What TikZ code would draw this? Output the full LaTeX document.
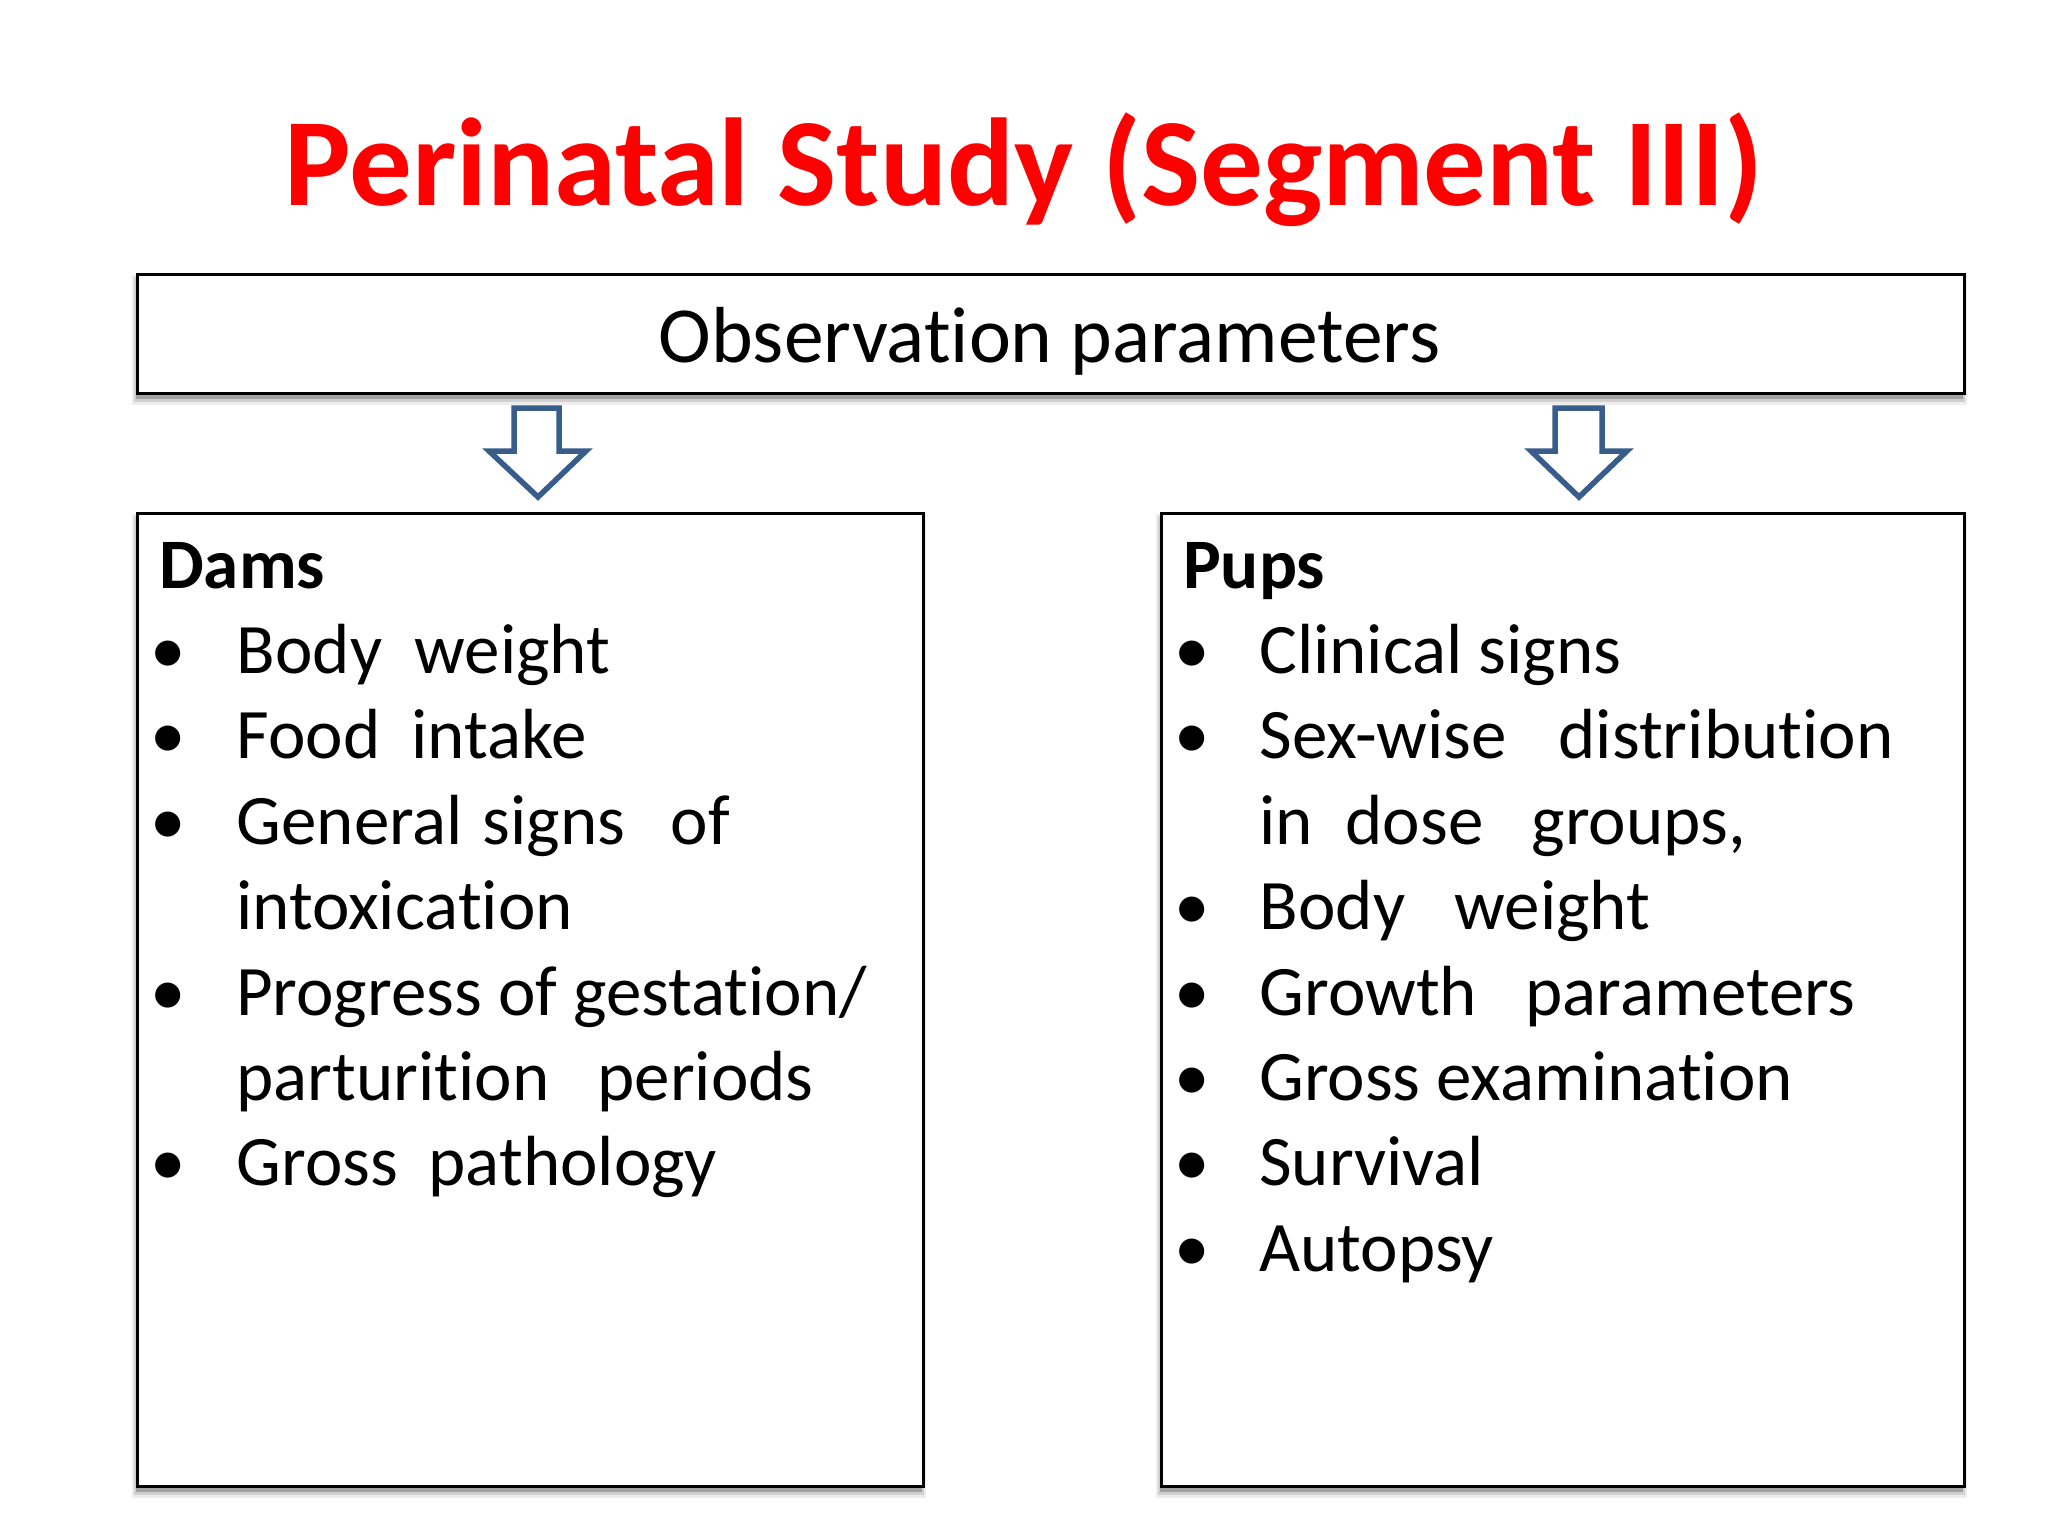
\documentclass[tikz,border=0pt]{standalone}
\usepackage{fontspec}
\setmainfont{Carlito}[Ligatures={NoCommon,NoRare,NoContextual}]
\definecolor{arrowblue}{RGB}{56,93,138}
\definecolor{titlered}{RGB}{255,0,0}
\newcommand{\placeword}[2]{\rlap{\hspace*{#1pt}#2}}
\begin{document}
\begin{tikzpicture}[x=1pt,y=-1pt,
  panel/.style={draw=black, line width=3pt, fill=white, inner sep=0pt, anchor=north west},
  blockarrow/.style={draw=arrowblue, line width=5.5pt, fill=white, line join=miter},
  itemtext/.style={anchor=base west, inner sep=0pt, font=\fontsize{71}{86}\selectfont},
  bullettext/.style={anchor=base, inner sep=0pt, font=\fontsize{71}{86}\selectfont},
  headtext/.style={anchor=base west, inner sep=0pt, font=\fontsize{71}{86}\selectfont\bfseries},
  shadowA/.style={fill=black, opacity=0.07},
  shadowB/.style={fill=black, opacity=0.12},
  shadowC/.style={fill=black, opacity=0.22}]
\useasboundingbox (0,0) rectangle (2048,1536);
\fill[white] (0,0) rectangle (2048,1536);

% shadows
\foreach \xa/\ya/\xb/\yb in {136/273/1963/392, 136/512/922/1485, 1160/512/1963/1485}{
  \fill[shadowA] (\xa-4,\ya+2) rectangle (\xb+4,\yb+13);
  \fill[shadowB] (\xa-2,\ya+4) rectangle (\xb+2,\yb+10);
  \fill[shadowC] (\xa,\ya+5) rectangle (\xb,\yb+7);
}

% title
\node[anchor=base, inner sep=0pt, text=titlered, font=\fontsize{125}{150}\selectfont\bfseries] (title) at (1024,205) {Perinatal Study (Segment III)};

% boxes
\node[panel, minimum width=1827pt, minimum height=119pt] (obs) at (136,273) {};
\node[anchor=base, inner sep=0pt, font=\fontsize{79.5}{100}\selectfont] (obstext) at (1049.5,362) {Observation parameters};
\node[panel, minimum width=786pt, minimum height=973pt] (dams) at (136,512) {};
\node[panel, minimum width=803pt, minimum height=973pt] (pups) at (1160,512) {};

% block arrows
\draw[blockarrow] (514,408) -- (559,408) -- (559,451) -- (586,451) -- (538,497) -- (489,451) -- (514,451) -- cycle;
\draw[blockarrow] (1555,408) -- (1602,408) -- (1602,451) -- (1627,451) -- (1579,497) -- (1531,451) -- (1555,451) -- cycle;

% Dams
\node[headtext] (damshead) at (159,588) {Dams};
\node[bullettext] (db1) at (168,673.5) {•};
\node[itemtext] (d1) at (236,673.5) {\placeword{0}{Body}\placeword{178}{weight}};
\node[bullettext] (db2) at (168,758.9) {•};
\node[itemtext] (d2) at (236,758.9) {\placeword{0}{Food}\placeword{175}{intake}};
\node[bullettext] (db3) at (168,844.3) {•};
\node[itemtext] (d3) at (236,844.3) {\placeword{0}{General}\placeword{246}{signs}\placeword{434}{of}};
\node[itemtext] (d3b) at (236,929.7) {intoxication};
\node[bullettext] (db4) at (168,1015.1) {•};
\node[itemtext] (d4) at (236,1015.1) {Progress of gestation/};
\node[itemtext] (d4b) at (236,1100.5) {\placeword{0}{parturition}\placeword{361}{periods}};
\node[bullettext] (db5) at (168,1185.9) {•};
\node[itemtext] (d5) at (236,1185.9) {\placeword{0}{Gross}\placeword{192}{pathology}};

% Pups
\node[headtext] (pupshead) at (1183,588) {Pups};
\node[bullettext] (pb1) at (1192,673.5) {•};
\node[itemtext] (p1) at (1259,673.5) {Clinical signs};
\node[bullettext] (pb2) at (1192,758.9) {•};
\node[itemtext] (p2) at (1259,758.9) {\placeword{0}{Sex-wise}\placeword{299}{distribution}};
\node[itemtext] (p2b) at (1259,844.3) {\placeword{0}{in}\placeword{86}{dose}\placeword{272}{groups,}};
\node[bullettext] (pb3) at (1192,929.7) {•};
\node[itemtext] (p3) at (1259,929.7) {\placeword{0}{Body}\placeword{195}{weight}};
\node[bullettext] (pb4) at (1192,1015.1) {•};
\node[itemtext] (p4) at (1259,1015.1) {\placeword{0}{Growth}\placeword{266}{parameters}};
\node[bullettext] (pb5) at (1192,1100.5) {•};
\node[itemtext] (p5) at (1259,1100.5) {Gross examination};
\node[bullettext] (pb6) at (1192,1185.9) {•};
\node[itemtext] (p6) at (1259,1185.9) {Survival};
\node[bullettext] (pb7) at (1192,1271.3) {•};
\node[itemtext] (p7) at (1259,1271.3) {Autopsy};
\end{tikzpicture}
\end{document}
